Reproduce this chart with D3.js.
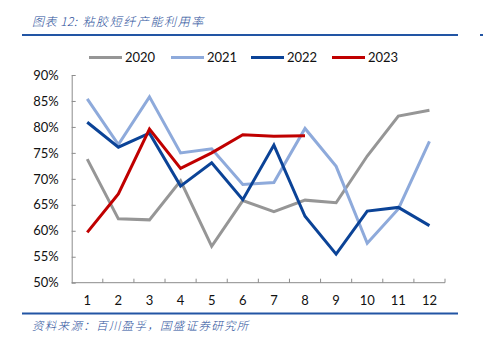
<!DOCTYPE html>
<html>
<head>
<meta charset="utf-8">
<script src="https://cdn.jsdelivr.net/npm/d3@7"></script>
<style>
  html, body { margin: 0; padding: 0; background: #fff; }
  svg { display: block; }
</style>
</head>
<body>
<svg id="chart" width="483" height="349"></svg>
<script>
// Monthly capacity utilisation of viscose staple fibre (%)
const months = [1, 2, 3, 4, 5, 6, 7, 8, 9, 10, 11, 12];
const yearNames = ["2020", "2021", "2022", "2023"];
const values2020 = [73.8, 62.3, 62.1, 69.6, 57.0, 65.8, 63.7, 65.9, 65.4, 74.4, 82.1, 83.2];
const values2021 = [85.4, 76.6, 85.8, 75.0, 75.8, 68.9, 69.3, 79.7, 72.4, 57.6, 64.2, 77.2];
const values2022 = [80.9, 76.1, 78.8, 68.6, 73.1, 66.0, 76.5, 62.8, 55.5, 63.8, 64.5, 61.0];
const values2023 = [59.7, 67.1, 79.6, 72.0, 75.0, 78.5, 78.2, 78.3];
const yTicks = [50, 55, 60, 65, 70, 75, 80, 85, 90];

const colors = ["#969696", "#8eaadb", "#0b4397", "#c00000"];
const seriesValues = [values2020, values2021, values2022, values2023];

const svg = d3.select("#chart");
const cjk = "'Noto Sans CJK SC', sans-serif";
const latin = "Lato, 'Open Sans', sans-serif";
const rule = "#2255a4";

// Header and footer
const title = svg.append("text")
  .attr("x", 32).attr("y", 26)
  .attr("font-family", cjk).attr("font-size", 12).attr("font-style", "italic")
  .attr("font-weight", 300)
  .attr("fill", "#2a4f9a");
title.append("tspan").attr("letter-spacing", 0.5).text("图表 12:");
title.append("tspan").attr("dx", 5).attr("letter-spacing", 1.6).text("粘胶短纤产能利用率");
svg.append("line").attr("x1", 22).attr("x2", 458).attr("y1", 35).attr("y2", 35)
  .attr("stroke", rule).attr("stroke-width", 2);
svg.append("line").attr("x1", 480).attr("x2", 483).attr("y1", 35).attr("y2", 35)
  .attr("stroke", rule).attr("stroke-width", 2);
svg.append("line").attr("x1", 22).attr("x2", 458).attr("y1", 313.5).attr("y2", 313.5)
  .attr("stroke", rule).attr("stroke-width", 2);
svg.append("text")
  .attr("x", 32).attr("y", 330)
  .attr("font-family", cjk).attr("font-size", 11.5).attr("font-style", "italic")
  .attr("font-weight", 300).attr("letter-spacing", 1.3)
  .attr("fill", "#2a4f9a")
  .text("资料来源：百川盈孚，国盛证券研究所");

// Plot area
const plotLeft = 71.7, plotRight = 445, plotTop = 75, plotBottom = 282.7;
const x = d3.scaleBand().domain(months).range([plotLeft, plotRight]);
const y = d3.scaleLinear().domain([50, 90]).range([plotBottom, plotTop]);
const axisColor = "#8c8c8c";

// Y axis
const yAxis = svg.append("g")
  .attr("transform", `translate(${plotLeft},0)`)
  .call(d3.axisLeft(y).tickValues(yTicks).tickFormat(d => d + "%").tickSizeInner(-4).tickSizeOuter(0).tickPadding(13));
yAxis.select(".domain").attr("stroke", axisColor);
yAxis.selectAll(".tick line").attr("stroke", axisColor);
yAxis.selectAll("text").attr("font-family", latin).attr("font-size", 13).attr("fill", "#111");

// X axis: ticks sit at band boundaries
const xAxis = svg.append("g").attr("transform", `translate(0,${plotBottom})`);
xAxis.append("line").attr("x1", plotLeft).attr("x2", plotRight).attr("y1", 0).attr("y2", 0)
  .attr("stroke", axisColor);
xAxis.selectAll("line.tk").data(months)
  .join("line").attr("class", "tk")
  .attr("x1", d => x(d) + x.bandwidth()).attr("x2", d => x(d) + x.bandwidth())
  .attr("y1", 0).attr("y2", -4).attr("stroke", axisColor);
xAxis.selectAll("text").data(months)
  .join("text")
  .attr("x", d => x(d) + x.bandwidth() / 2).attr("y", 22)
  .attr("text-anchor", "middle")
  .attr("font-family", latin).attr("font-size", 13).attr("fill", "#111")
  .text(d => d);

// Lines
const line = d3.line()
  .x((d, i) => x(months[i]) + x.bandwidth() / 2)
  .y(d => y(d));
seriesValues.forEach((vals, k) => {
  svg.append("path")
    .datum(vals)
    .attr("d", line)
    .attr("fill", "none")
    .attr("stroke", colors[k])
    .attr("stroke-width", 3)
    .attr("stroke-linejoin", "miter");
});

// Legend
const legendX = [89, 171, 251, 332];
const legend = svg.append("g");
yearNames.forEach((name, k) => {
  legend.append("line")
    .attr("x1", legendX[k]).attr("x2", legendX[k] + 33)
    .attr("y1", 57.5).attr("y2", 57.5)
    .attr("stroke", colors[k]).attr("stroke-width", 3);
  legend.append("text")
    .attr("x", legendX[k] + 36).attr("y", 62)
    .attr("font-family", latin).attr("font-size", 13).attr("fill", "#111")
    .text(name);
});
</script>
</body>
</html>
